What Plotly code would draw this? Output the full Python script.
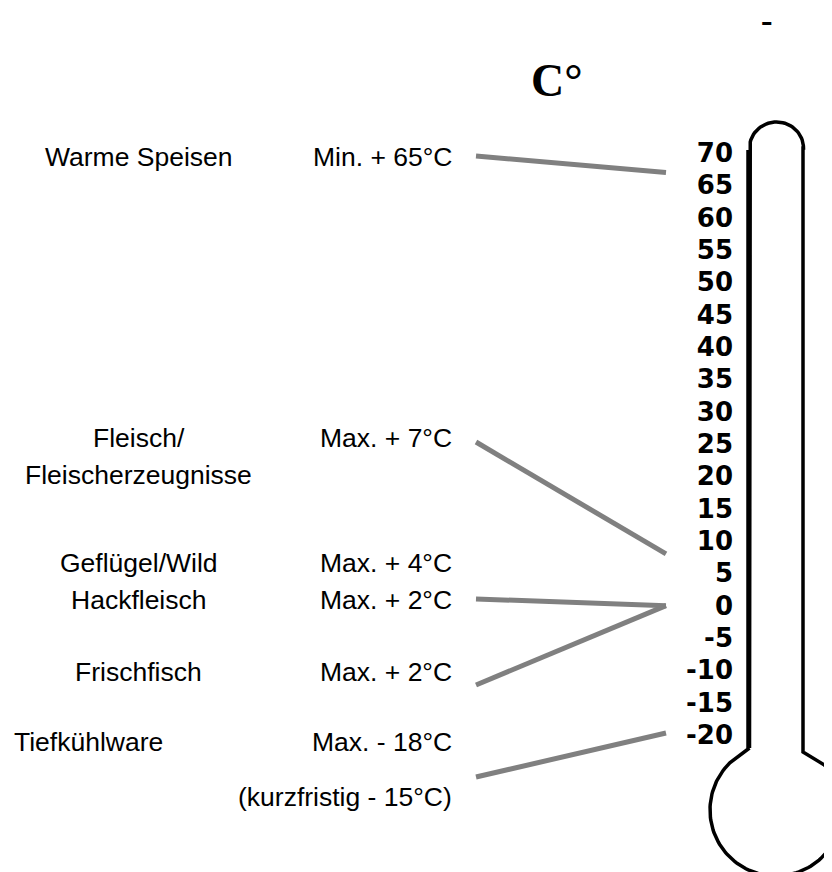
import math
import plotly.graph_objects as go

# ---------------- data ----------------
scale_ticks = [70, 65, 60, 55, 50, 45, 40, 35, 30, 25, 20, 15, 10, 5, 0, -5, -10, -15, -20]
scale_labels = ["70", "65", "60", "55", "50", "45", "40", "35", "30", "25", "20",
                "15", "10", "5", "0", "-5", "-10", "-15", "-20"]

categories = ["Warme Speisen", "Fleisch/<br>Fleischerzeugnisse", "Geflügel/Wild",
              "Hackfleisch", "Frischfisch", "Tiefkühlware"]
limit_texts = ["Min. + 65°C", "Max. + 7°C", "Max. + 4°C", "Max. + 2°C",
               "Max. + 2°C", "Max. - 18°C"]
limit_values = [65, 7, 4, 2, 2, -18]
note_text = "(kurzfristig - 15°C)"
unit_label = "C°"
corner_mark = "–"

# where each connector meets the scale (as drawn in the picture), per category; None = no line
pointer_temps = [67, 8, None, 0, 0, -19.7]

# ---------------- layout geometry (screen pixels) ----------------
PAGE_OFF = 8                      # default body margin of the html page
SCREEN_W, SCREEN_H = 832, 872
W, H = SCREEN_W - PAGE_OFF, SCREEN_H - PAGE_OFF
PX_70, PX_M20 = 153, 735
PX_PER_DEG = (PX_M20 - PX_70) / 90.0
YMAX = 70 + (PX_70 - PAGE_OFF) / PX_PER_DEG
YMIN = YMAX - H / PX_PER_DEG


def ty(p):
    """screen pixel row -> temperature-axis units"""
    return YMAX - (p - PAGE_OFF) / PX_PER_DEG


row_px = [157, 438, 563, 600, 672, 742]
cat_x = [138.5, 138.5, 138.5, 138.5, 138.5, 88]
limit_right = 454
line_start_x = 476
line_start_px = [156, 442, None, 599, 685, 777]
line_end_x = 666
LINE_SPACING = 37

TXT = dict(family="Liberation Sans, Arial, sans-serif", size=26.5, color="#000000")

fig = go.Figure()

# connector lines
for t, sp in zip(pointer_temps, line_start_px):
    if t is None:
        continue
    fig.add_trace(go.Scatter(
        x=[line_start_x, line_end_x], y=[ty(sp), t], mode="lines",
        line=dict(color="#808080", width=5), hoverinfo="skip", showlegend=False))

# thermometer outline
pts = []
pts.append((749.5, 748))
pts.append((749.5, 148))
cx, cy, rx, ry = 776.5, 148, 27, 26
for i in range(0, 41):
    a = math.pi - math.pi * i / 40
    pts.append((cx + rx * math.cos(a), cy - ry * math.sin(a)))
pts.append((803, 148))
pts.append((803, 752))
bcx, bcy, br = 776, 810, 66
a0 = math.atan2(763 - bcy, 822 - bcx)
a1 = math.atan2(763 - bcy, 730 - bcx) + 2 * math.pi
for i in range(0, 121):
    a = a0 + (a1 - a0) * i / 120
    pts.append((bcx + br * math.cos(a), bcy + br * math.sin(a)))
pts.append((749.5, 748))
fig.add_trace(go.Scatter(
    x=[p[0] for p in pts], y=[ty(p[1]) for p in pts], mode="lines",
    line=dict(color="#000000", width=3.5), hoverinfo="skip", showlegend=False))
# slightly heavier left wall of the tube
fig.add_trace(go.Scatter(
    x=[748.5, 748.5], y=[ty(748), ty(150)], mode="lines",
    line=dict(color="#000000", width=4.5), hoverinfo="skip", showlegend=False))

annotations = []
for cat, cx_, rp in zip(categories, cat_x, row_px):
    lines = cat.split("<br>")
    for i, ln in enumerate(lines):
        annotations.append(dict(x=cx_, y=ty(rp + i * LINE_SPACING), text=ln, showarrow=False,
                                xanchor="center", yanchor="middle", font=TXT))
for lt, rp in zip(limit_texts, row_px):
    annotations.append(dict(x=limit_right, y=ty(rp), text=lt, showarrow=False,
                            xanchor="right", yanchor="middle", font=TXT))
annotations.append(dict(x=limit_right, y=ty(797), text=note_text, showarrow=False,
                        xanchor="right", yanchor="middle", font=TXT))
annotations.append(dict(x=557, y=ty(80), text=unit_label, showarrow=False,
                        xanchor="center", yanchor="middle",
                        font=dict(family="Liberation Serif, Times New Roman, serif", size=46,
                                  color="#000000", weight="bold")))
annotations.append(dict(x=767, y=ty(22), text=corner_mark, showarrow=False,
                        xanchor="center", yanchor="middle",
                        font=dict(family="DejaVu Sans", size=23, color="#000000", weight="bold")))

fig.update_layout(
    width=W, height=H, autosize=False,
    margin=dict(l=0, r=0, t=0, b=0),
    paper_bgcolor="#ffffff", plot_bgcolor="#ffffff",
    showlegend=False,
    xaxis=dict(range=[PAGE_OFF, SCREEN_W], visible=False, fixedrange=True),
    yaxis=dict(range=[YMIN, YMAX], tickmode="array", tickvals=scale_ticks, ticktext=scale_labels,
               showgrid=False, zeroline=False, showline=False, ticks="",
               anchor="free", position=(733 - PAGE_OFF) / W, side="left",
               tickfont=dict(family="DejaVu Sans", size=26, color="#000000", weight="bold"),
               fixedrange=True),
    annotations=annotations,
)

fig.write_html("out.html")
